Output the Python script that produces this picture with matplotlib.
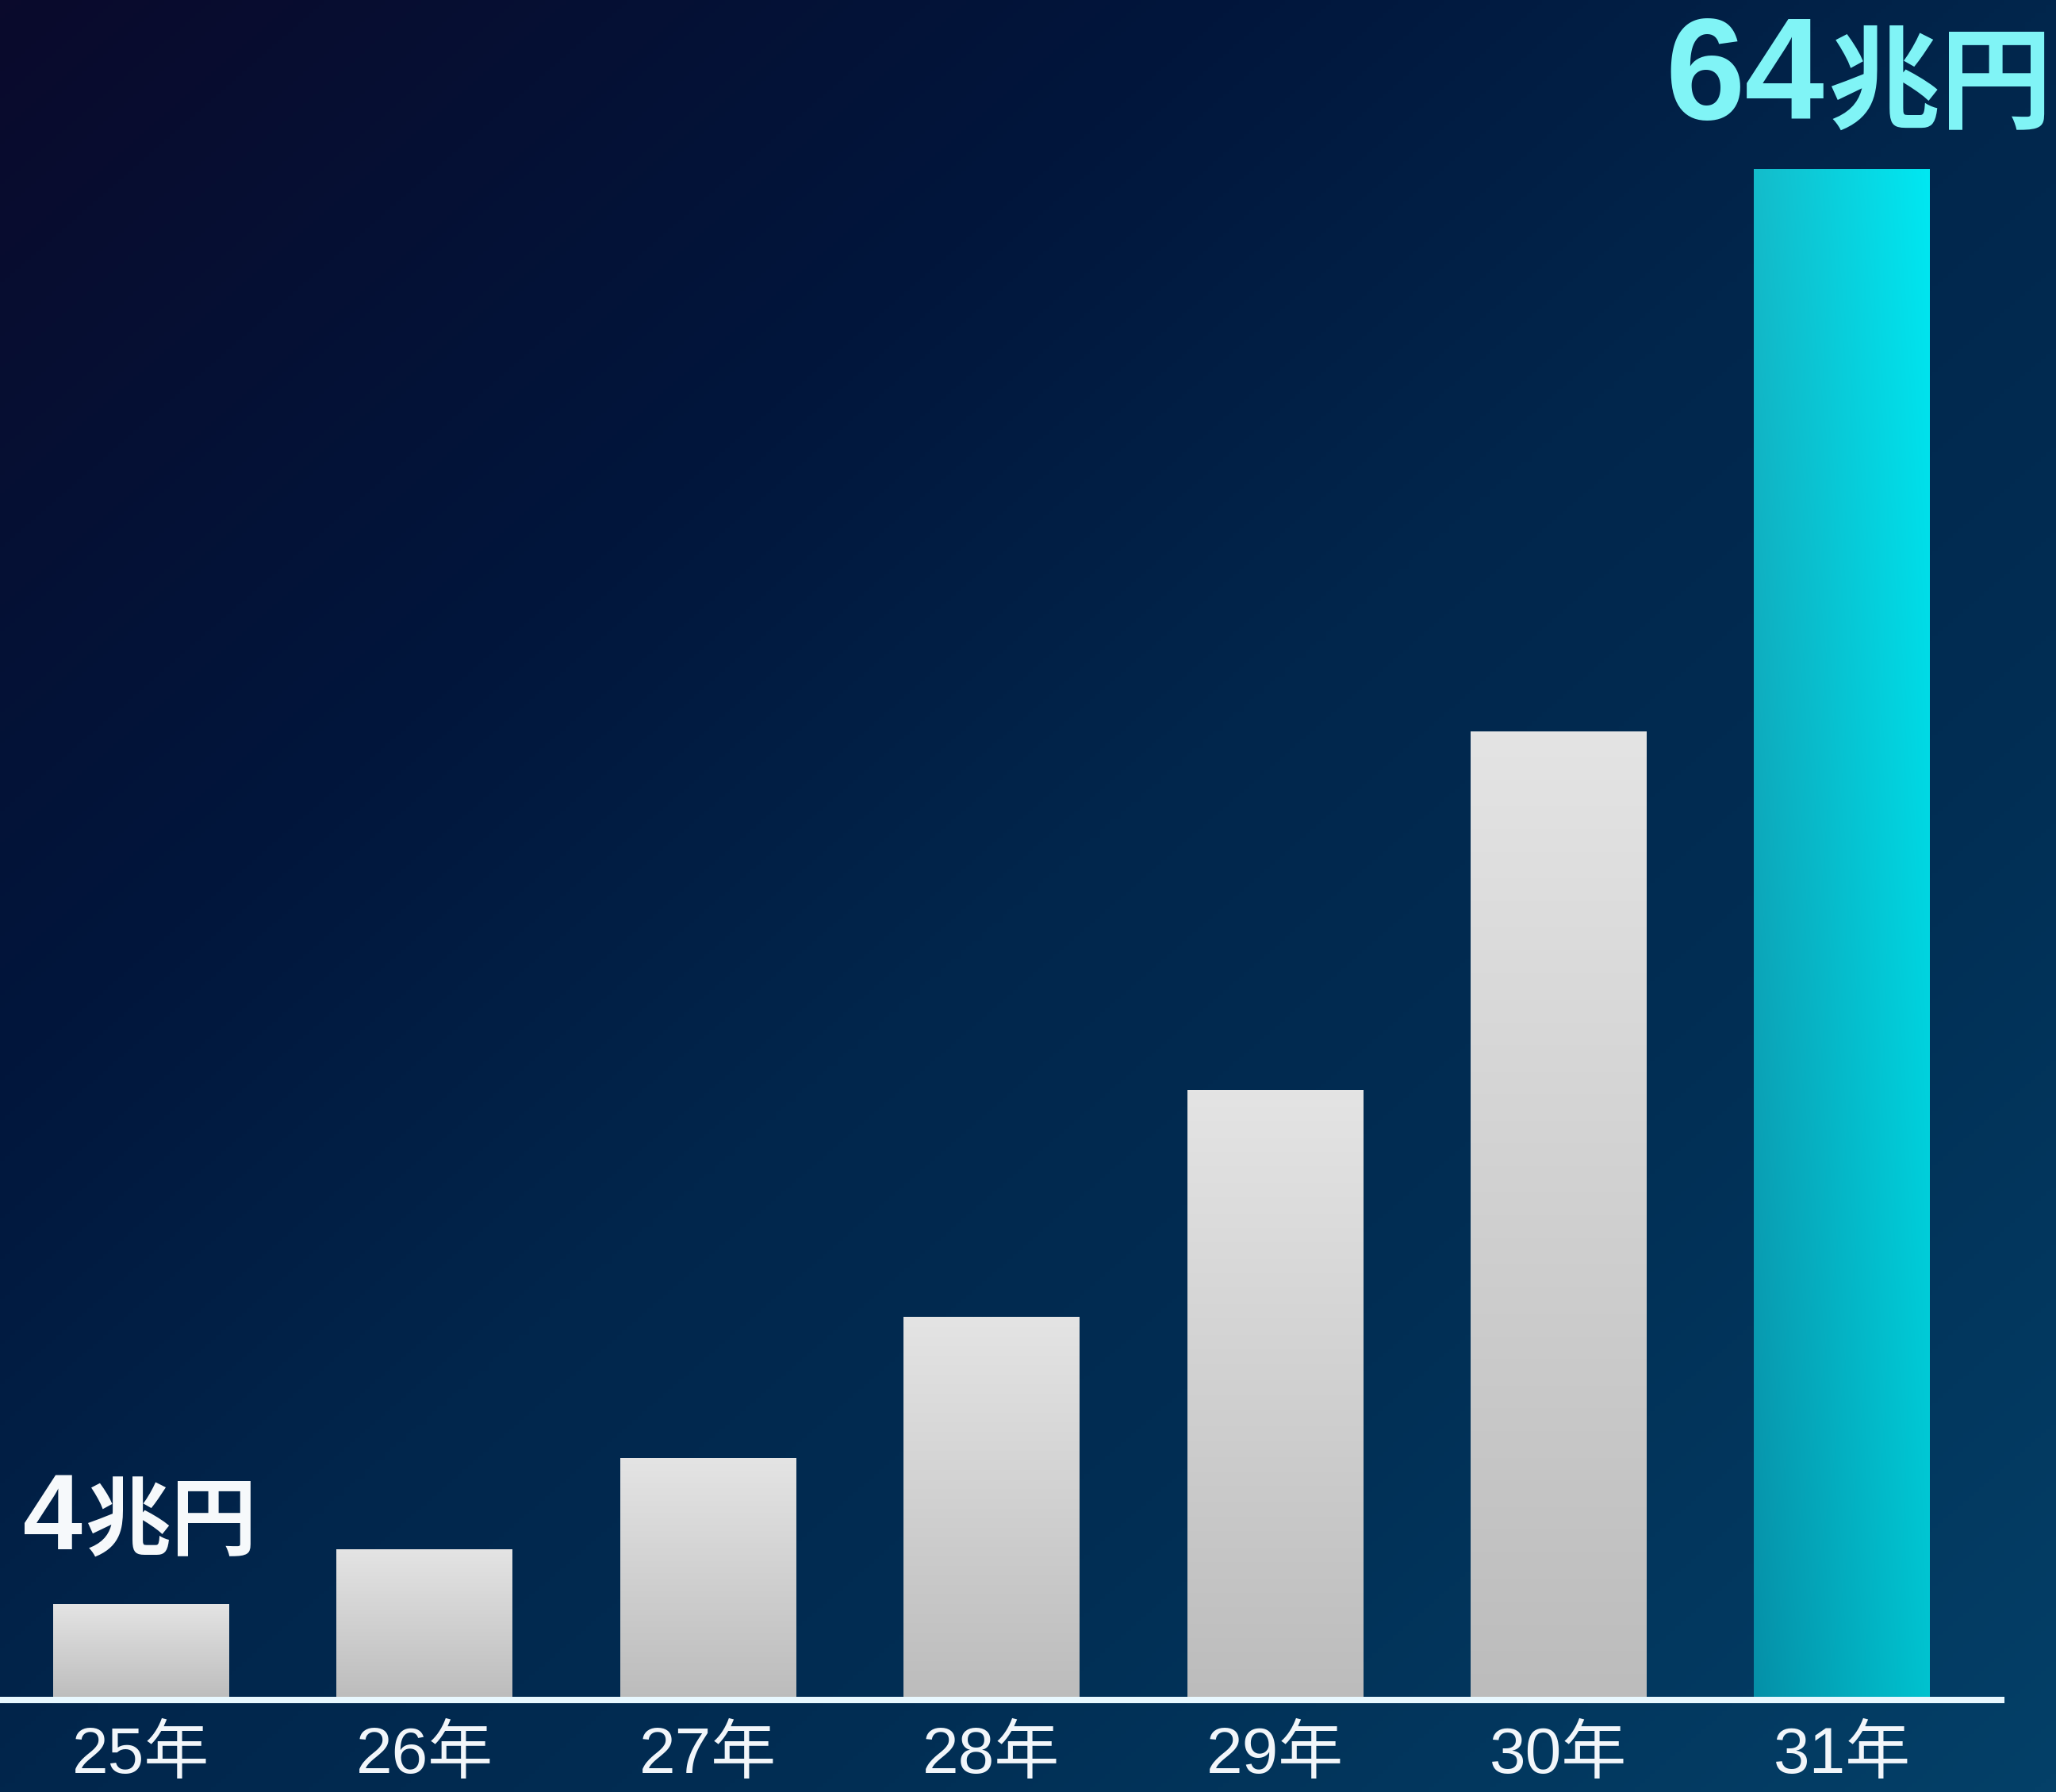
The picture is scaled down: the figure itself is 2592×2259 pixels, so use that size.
import numpy as np
import matplotlib
matplotlib.use('Agg')
import matplotlib.pyplot as plt
from matplotlib.colors import LinearSegmentedColormap, to_rgb

# data
years = ['25年', '26年', '27年', '28年', '29年', '30年', '31年']
values = [4, 6.3, 10.1, 16.0, 25.5, 40.5, 64]
first_label = '4'
last_label = '64'
unit = '兆円'

# latin digits from a Helvetica-like face, kanji from Noto CJK
plt.rcParams['font.family'] = ['Liberation Sans', 'Noto Sans CJK JP', 'DejaVu Sans']

fig = plt.figure(figsize=(25.92, 22.59), dpi=100)

# background: diagonal dark navy -> blue gradient
bg = fig.add_axes([0, 0, 1, 1], zorder=0)
bg.axis('off')
gx, gy = np.meshgrid(np.linspace(0, 1, 400), np.linspace(0, 1, 400))
t = (gx + gy) / 2
bg_cmap = LinearSegmentedColormap.from_list(
    'bg', [(0, '#0a0a2c'), (0.3, '#01163c'), (0.5, '#01264c'),
           (0.7, '#012e54'), (1, '#044068')])
bg.imshow(t, cmap=bg_cmap, extent=[0, 1, 0, 1], aspect='auto', origin='upper')
bg.set_xlim(0, 1)
bg.set_ylim(0, 1)

ax = fig.add_axes([0, 0, 1, 1], zorder=1)
ax.patch.set_alpha(0)

x = np.arange(len(years))
bars = ax.bar(x, values, width=0.62, color='#d0d0d0', zorder=1)

# grey vertical gradient on the ordinary bars
grey = LinearSegmentedColormap.from_list('grey', ['#bcbcbc', '#e4e4e4'])
grad = np.linspace(0, 1, 256).reshape(-1, 1)
for b in bars[:-1]:
    x0, y0, w, h = b.get_x(), b.get_y(), b.get_width(), b.get_height()
    im = ax.imshow(grad, cmap=grey, origin='lower', aspect='auto',
                   extent=[x0, x0 + w, y0, y0 + h], zorder=1.5)
    im.set_clip_path(b)

# cyan 2d gradient on the last bar
bl, br, tl, tr = [np.array(to_rgb(c)) for c in ('#0590a8', '#00c2cf', '#14bccb', '#00e8f2')]
hh = np.linspace(0, 1, 128)[None, :, None]
vv = np.linspace(0, 1, 256)[:, None, None]
rgb = (1 - vv) * ((1 - hh) * bl + hh * br) + vv * ((1 - hh) * tl + hh * tr)
b = bars[-1]
x0, y0, w, h = b.get_x(), b.get_y(), b.get_width(), b.get_height()
im = ax.imshow(rgb, origin='lower', aspect='auto',
               extent=[x0, x0 + w, y0, y0 + h], zorder=1.5)
im.set_clip_path(b)

ax.set_xlim(-0.497, 6.755)
ax.set_ylim(-3.85, 71.06)

# baseline as the bottom spine
for s in ['top', 'right', 'left']:
    ax.spines[s].set_visible(False)
ax.spines['bottom'].set_position(('data', 0))
ax.spines['bottom'].set_bounds(-0.497, 6.562)
ax.spines['bottom'].set_color('#e8f8ff')
ax.spines['bottom'].set_linewidth(5.8)
ax.spines['bottom'].set_zorder(3)
ax.set_yticks([])
ax.set_xticks(x, years)
ax.tick_params(axis='x', length=0, pad=24, labelsize=59, labelcolor='#f2f6fa')


def value_label(i, num, num_size, unit_size, color, dx_num, dx_unit, dy):
    ax.annotate(num, (x[i], values[i]), xytext=(dx_num, dy), textcoords='offset points',
                ha='right', va='baseline', fontsize=num_size, fontweight='bold', color=color)
    ax.annotate(unit, (x[i], values[i]), xytext=(dx_unit, dy), textcoords='offset points',
                ha='left', va='baseline', fontsize=unit_size, fontweight='bold', color=color)


value_label(0, first_label, 97, 78, '#f6f9fb', -53, -50, 50)
value_label(len(values) - 1, last_label, 130, 102, '#80f4f6', -16, -13, 45)

fig.savefig('out.png', dpi=100)
